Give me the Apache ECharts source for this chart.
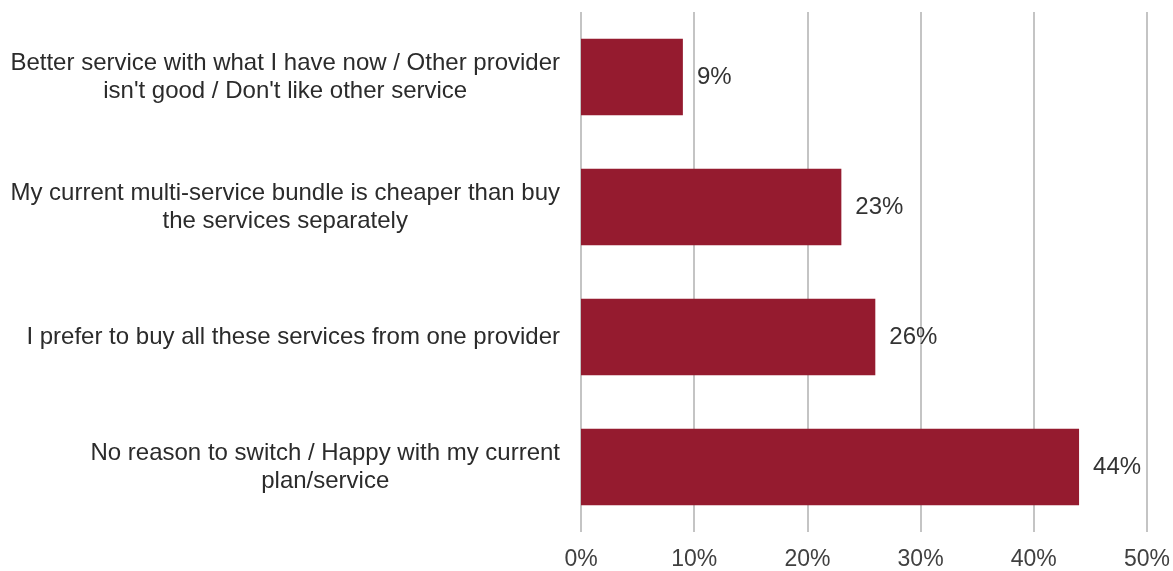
<!DOCTYPE html>
<html>
<head>
<meta charset="utf-8">
<script src="https://cdn.jsdelivr.net/npm/echarts@6/dist/echarts.min.js"></script>
<style>
  html, body { margin: 0; padding: 0; background: #fff; }
  #chart { width: 1173px; height: 571px; }
</style>
</head>
<body>
<div id="chart"></div>
<script>
// Reasons for not switching, top to bottom
const categories = [
  "Better service with what I have now / Other provider\nisn't good / Don't like other service",
  "My current multi-service bundle is cheaper than buy\nthe services separately",
  "I prefer to buy all these services from one provider",
  "No reason to switch / Happy with my current\nplan/service"
];
const shares = [9, 23, 26, 44];
const axisTicks = [0, 10, 20, 30, 40, 50];

const FONT = 'Liberation Sans, Arial, sans-serif';

const chart = echarts.init(document.getElementById('chart'));
chart.setOption({
  animation: false,
  grid: { left: 581, right: 26, top: 12, bottom: 39 },
  xAxis: {
    type: 'value',
    min: axisTicks[0],
    max: axisTicks[axisTicks.length - 1],
    interval: axisTicks[1] - axisTicks[0],
    axisLine: { show: false },
    axisTick: { show: false },
    splitLine: { show: true, lineStyle: { color: '#c4c4c4', width: 2 } },
    axisLabel: {
      formatter: '{value}%',
      fontFamily: FONT,
      fontSize: 23,
      color: '#404040',
      margin: 16
    }
  },
  yAxis: {
    type: 'category',
    data: categories,
    inverse: true,
    axisLine: { show: false },
    axisTick: { show: false },
    splitLine: { show: false },
    axisLabel: {
      margin: 21,
      formatter: v => v.split('\n').map(s => '{t|' + s + '}').join('\n'),
      rich: {
        t: {
          align: 'center',
          fontFamily: FONT,
          fontSize: 24,
          lineHeight: 28,
          color: '#2b2b2b'
        }
      }
    }
  },
  series: [{
    type: 'bar',
    data: shares,
    barCategoryGap: '41%',
    itemStyle: { color: '#951b2f' },
    label: {
      show: true,
      position: 'right',
      distance: 14,
      formatter: '{c}%',
      fontFamily: FONT,
      fontSize: 24,
      color: '#333333'
    }
  }]
});
</script>
</body>
</html>
